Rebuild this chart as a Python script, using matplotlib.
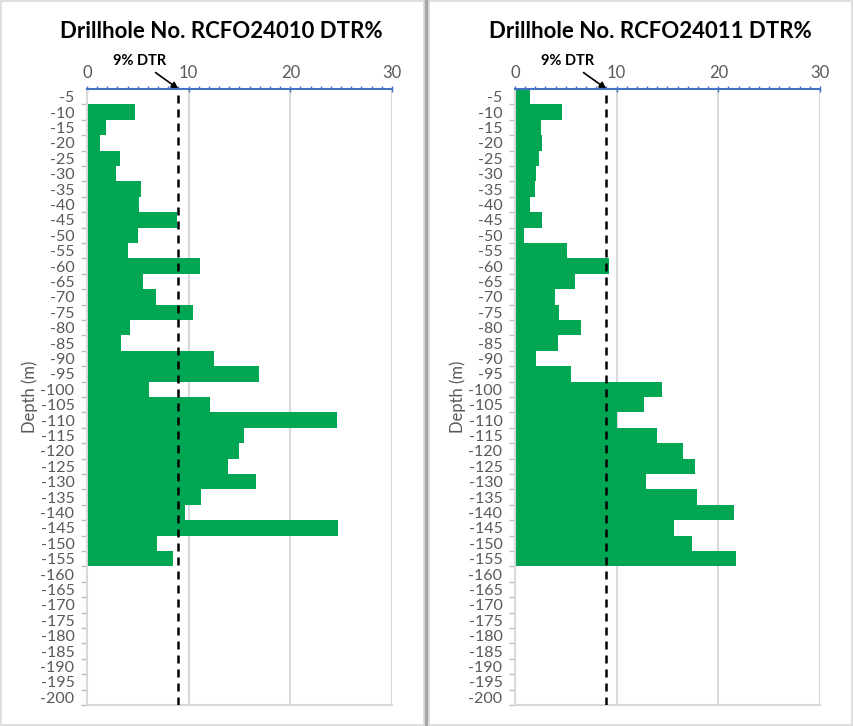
import matplotlib
matplotlib.use("Agg")
import matplotlib.pyplot as plt
from matplotlib.patches import Rectangle
from matplotlib.lines import Line2D
from matplotlib.ticker import MultipleLocator

plt.rcParams['font.family'] = ['Lato', 'DejaVu Sans']

# depth categories (m), top to bottom
depths = [-5, -10, -15, -20, -25, -30, -35, -40, -45, -50,
          -55, -60, -65, -70, -75, -80, -85, -90, -95, -100,
          -105, -110, -115, -120, -125, -130, -135, -140, -145, -150,
          -155, -160, -165, -170, -175, -180, -185, -190, -195, -200]

# DTR% per 5 m interval, -5 to -155
dtr_24010 = [0.0, 4.7, 1.9, 1.3, 3.2, 2.9, 5.3, 5.15, 8.85, 5.0,
             4.0, 11.15, 5.5, 6.75, 10.45, 4.2, 3.3, 12.45, 16.95, 6.1,
             12.05, 24.55, 15.4, 15.0, 13.85, 16.6, 11.2, 9.65, 24.7, 6.85,
             8.5]
dtr_24011 = [1.5, 4.65, 2.55, 2.65, 2.4, 2.05, 1.95, 1.5, 2.65, 0.9,
             5.1, 9.2, 5.9, 3.9, 4.3, 6.5, 4.25, 2.1, 5.5, 14.45,
             12.7, 10.0, 13.95, 16.55, 17.75, 12.85, 17.9, 21.55, 15.65, 17.45,
             21.7]

holes = ["RCFO24010", "RCFO24011"]
threshold = 9

green = '#00A651'
blue = '#4472C4'
grid_c = '#D9D9D9'
label_c = '#595959'

fig = plt.figure(figsize=(8.54, 7.26), dpi=100)

# chart frames
W, H = 854, 726
fig.add_artist(Rectangle((1 / W, 1 / H), 423 / W, 724 / H, transform=fig.transFigure,
                         fill=False, edgecolor=grid_c, lw=1.2))
fig.add_artist(Rectangle((429 / W, 1 / H), 423 / W, 724 / H, transform=fig.transFigure,
                         fill=False, edgecolor=grid_c, lw=1.2))
fig.add_artist(Line2D([426.5 / W, 426.5 / W], [0, 1], transform=fig.transFigure,
                      color='#A6A6A6', lw=2.4))

panels = [(87, 221, dtr_24010), (515, 650, dtr_24011)]

for (x0, tx, vals), hole in zip(panels, holes):
    ax = fig.add_axes([x0 / W, 21 / H, 305 / W, 616 / H])
    pos = list(range(len(vals)))
    ax.barh(pos, vals, height=1.0, color=green, linewidth=0, zorder=2)
    ax.axvline(threshold, color='black', lw=1.8, ls=(0, (3.2, 2.4)), zorder=3)

    ax.set_xlim(0, 30)
    ax.set_ylim(len(depths) - 0.5, -0.5)
    ax.xaxis.tick_top()
    ax.set_xticks([0, 10, 20, 30])
    ax.xaxis.set_minor_locator(MultipleLocator(1))
    ax.tick_params(axis='x', which='major', direction='inout', length=5, width=1,
                   color=blue, labelcolor=label_c, labelsize=12, pad=3)
    ax.tick_params(axis='x', which='minor', direction='out', length=2.5, width=1,
                   color=blue)
    ax.grid(axis='x', which='major', color=grid_c, lw=1.5, zorder=0)

    ax.set_yticks(range(len(depths)))
    ax.set_yticklabels([str(d) for d in depths])
    ax.set_yticks([i + 0.5 for i in range(len(depths))], minor=True)
    ax.tick_params(axis='y', which='major', length=0, labelcolor=label_c,
                   labelsize=11.5, pad=9)
    ax.tick_params(axis='y', which='minor', direction='out', length=4, width=1,
                   color='#BFBFBF')

    for s in ['left', 'bottom']:
        ax.spines[s].set_color(grid_c)
        ax.spines[s].set_linewidth(1.5)
    ax.spines['right'].set_visible(False)
    ax.spines['top'].set_color(blue)
    ax.spines['top'].set_linewidth(1.5)
    ax.spines['top'].set_zorder(4)

    ax.set_ylabel('Depth (m)', color=label_c, fontsize=12, labelpad=2)

    ax.annotate('9% DTR', xy=(threshold, 1), xycoords=('data', 'axes fraction'),
                xytext=(-28, 20), textcoords='offset points', ha='center', va='center',
                fontsize=10.5, fontweight='bold', color='black',
                arrowprops=dict(arrowstyle='-|>', color='black', lw=1.2,
                                mutation_scale=10, shrinkA=2, shrinkB=0))

    fig.text(tx / W, 1 - 31 / H, f'Drillhole No. {hole} DTR%', ha='center',
             va='center', fontsize=16, fontweight='bold')

fig.savefig('out.png', dpi=100)
